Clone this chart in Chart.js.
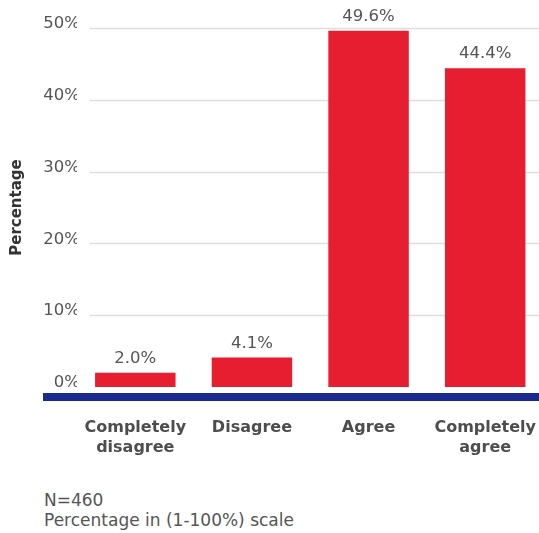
<!DOCTYPE html>
<html>
<head>
<meta charset="utf-8">
<script src="https://cdn.jsdelivr.net/npm/chart.js@4/dist/chart.umd.min.js"></script>
<style>
  html, body { margin: 0; padding: 0; background: #fff; overflow: hidden; }
  #wrap { position: relative; width: 539px; height: 533px; overflow: hidden; }
  #surveyChart { position: absolute; left: 0; top: 0; }
  .note {
    position: absolute; left: 44px; font-family: "DejaVu Sans", sans-serif;
    font-size: 17px; color: #555; line-height: 20px;
  }
</style>
</head>
<body>
<div id="wrap">
  <canvas id="surveyChart" width="567" height="470"></canvas>
  <div class="note" style="top:490px">N=460<br>Percentage in (1-100%) scale</div>
</div>
<script>
// Survey answers (percent of respondents)
const categories = [['Completely', 'disagree'], 'Disagree', 'Agree', ['Completely', 'agree']];
const shares = [2.0, 4.1, 49.6, 44.4];
const yTicks = [0, 10, 20, 30, 40, 50];

const FONT = '"DejaVu Sans", sans-serif';
const TEXT_GREY = '#555';

// light grid lines starting a little right of the axis labels
const gridPlugin = {
    id: 'softGrid',
    beforeDatasetsDraw(chart) {
        const { ctx } = chart;
        const y = chart.scales.y;
        ctx.save();
        ctx.strokeStyle = '#dedede';
        ctx.lineWidth = 1.5;
        yTicks.forEach(v => {
            if (v === 0) return;
            const py = Math.round(y.getPixelForValue(v)) + 0.5;
            ctx.beginPath();
            ctx.moveTo(90, py);
            ctx.lineTo(chart.width, py);
            ctx.stroke();
        });
        ctx.restore();
    }
};

// heavy navy baseline under the bars + value labels on top
const decorPlugin = {
    id: 'decor',
    afterDatasetsDraw(chart) {
        const { ctx } = chart;
        const zero = chart.scales.y.getPixelForValue(0);
        ctx.save();
        ctx.fillStyle = '#1b2a8f';
        ctx.fillRect(43, zero + 6, chart.width - 43, 8);

        ctx.fillStyle = TEXT_GREY;
        ctx.font = '16.5px ' + FONT;
        ctx.textAlign = 'center';
        ctx.textBaseline = 'bottom';
        chart.getDatasetMeta(0).data.forEach((bar, i) => {
            ctx.fillText(shares[i].toFixed(1) + '%', bar.x, bar.y - 6);
        });
        ctx.restore();
    }
};

new Chart(document.getElementById('surveyChart'), {
    type: 'bar',
    data: {
        labels: categories,
        datasets: [{
            data: shares,
            backgroundColor: '#e61e30',
            borderWidth: 0,
            categoryPercentage: 1,
            barPercentage: 0.69
        }]
    },
    options: {
        responsive: false,
        animation: false,
        layout: { padding: { top: 28, right: 0, left: 0, bottom: 0 } },
        plugins: {
            legend: { display: false },
            tooltip: { enabled: false }
        },
        scales: {
            x: {
                grid: { display: false, drawTicks: false },
                border: { display: false },
                ticks: {
                    color: '#4d4d4d',
                    font: { family: FONT, size: 16, weight: 'bold', lineHeight: 1.25 },
                    padding: 31,
                    maxRotation: 0,
                    autoSkip: false
                },
                afterFit(scale) { scale.height = 83; }
            },
            y: {
                min: 0,
                max: 50,
                afterBuildTicks(scale) {
                    scale.ticks = yTicks.map(v => ({ value: v }));
                },
                grid: { display: false, drawTicks: false },
                border: { display: false },
                ticks: {
                    color: TEXT_GREY,
                    font: { family: FONT, size: 16.5 },
                    padding: -3,
                    labelOffset: -4,
                    callback: v => v + '%'
                },
                title: {
                    display: true,
                    text: 'Percentage',
                    color: '#333',
                    font: { family: FONT, size: 15, weight: 'bold' },
                    padding: { top: 8, bottom: 0 }
                },
                afterFit(scale) { scale.width = 77; }
            }
        }
    },
    plugins: [gridPlugin, decorPlugin]
});
</script>
</body>
</html>
